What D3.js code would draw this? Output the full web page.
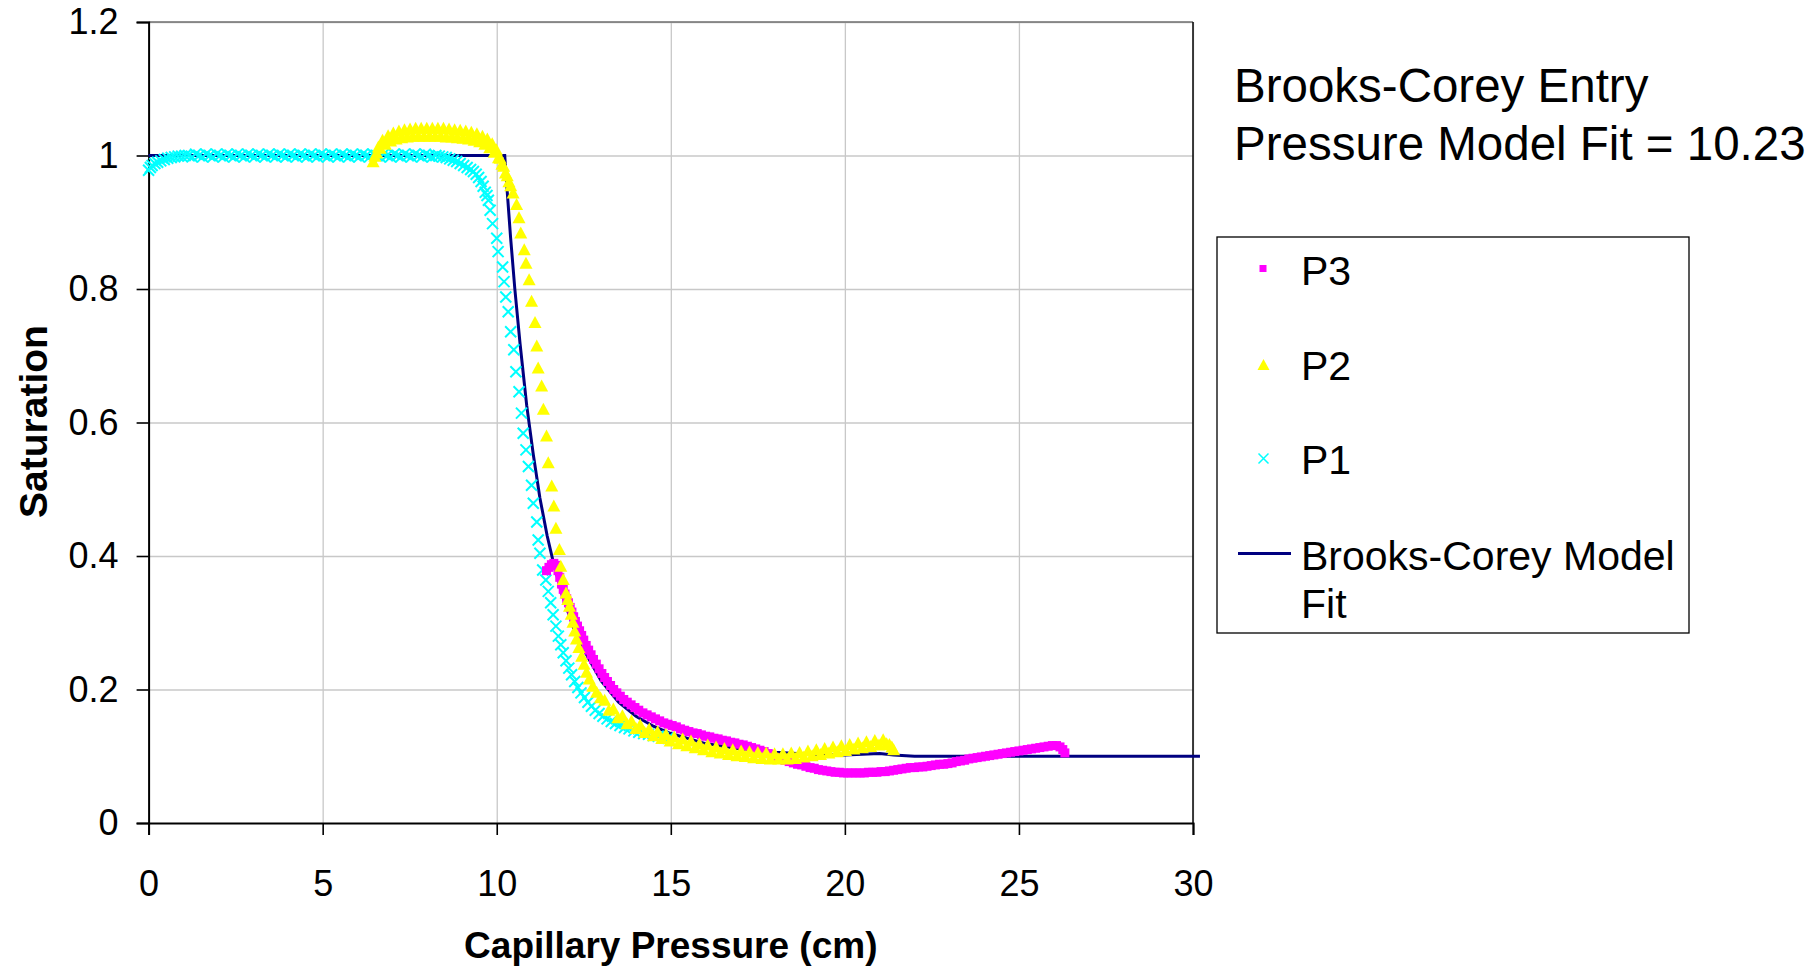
<!DOCTYPE html>
<html>
<head>
<meta charset="utf-8">
<script src="https://cdn.jsdelivr.net/npm/d3@7"></script>
<style>
  body { margin: 0; background: #fff; }
  text { font-family: "Liberation Sans", Arial, sans-serif; fill: #000; }
  .grid line { stroke: #c8c8c8; stroke-width: 1.3; }
  .grid .domain { display: none; }
</style>
</head>
<body>
<div id="chart"></div>
<script>
// axis ticks
var xTicks = [0, 5, 10, 15, 20, 25, 30];
var xTickLabels = ['0', '5', '10', '15', '20', '25', '30'];
var yTicks = [0, 0.2, 0.4, 0.6, 0.8, 1, 1.2];
var yTickLabels = ['0', '0.2', '0.4', '0.6', '0.8', '1', '1.2'];

var titleLines = ['Brooks-Corey Entry', 'Pressure Model Fit = 10.23'];
var seriesNames = ['P3', 'P2', 'P1', 'Brooks-Corey Model', 'Fit'];

// P1 : capillary pressure (cm), saturation
var p1 = [
  [0.00,0.978],[0.05,0.982],[0.10,0.985],[0.18,0.988],[0.26,0.990],[0.35,0.992],[0.45,0.994],[0.55,0.996],[0.65,0.997],[0.75,0.998],
  [0.85,0.999],[0.95,0.999],[1.05,1.000],[1.15,1.000],[1.25,0.998],[1.35,1.002],[1.45,1.000],[1.55,0.998],[1.65,1.002],[1.75,1.000],
  [1.85,0.998],[1.95,1.002],[2.05,1.000],[2.15,0.998],[2.25,1.002],[2.35,1.000],[2.45,0.998],[2.55,1.002],[2.65,1.000],[2.75,0.998],
  [2.85,1.002],[2.95,1.000],[3.05,0.998],[3.15,1.002],[3.25,1.000],[3.35,0.998],[3.45,1.002],[3.55,1.000],[3.65,0.998],[3.75,1.002],
  [3.85,1.000],[3.95,0.998],[4.05,1.002],[4.15,1.000],[4.25,0.998],[4.35,1.002],[4.45,1.000],[4.55,0.998],[4.65,1.002],[4.75,1.000],
  [4.85,0.998],[4.95,1.002],[5.05,1.000],[5.15,0.998],[5.25,1.002],[5.35,1.000],[5.45,0.998],[5.55,1.002],[5.65,1.000],[5.75,0.998],
  [5.85,1.002],[5.95,1.000],[6.05,0.998],[6.15,1.002],[6.25,1.000],[6.35,0.998],[6.45,1.002],[6.55,1.000],[6.65,0.998],[6.75,1.002],
  [6.85,1.000],[6.95,0.998],[7.05,1.002],[7.15,1.000],[7.25,0.998],[7.35,1.002],[7.45,1.000],[7.55,0.998],[7.65,1.002],[7.75,1.000],
  [7.85,0.998],[7.95,1.002],[8.05,1.000],[8.15,0.998],[8.25,1.000],[8.35,0.999],[8.45,0.998],[8.55,0.997],[8.65,0.995],[8.75,0.993],
  [8.85,0.991],[8.95,0.988],[9.05,0.985],[9.15,0.982],[9.25,0.979],[9.33,0.976],[9.41,0.972],[9.48,0.967],[9.55,0.961],[9.61,0.954],
  [9.67,0.945],[9.72,0.940],[9.76,0.933],[9.81,0.918],[9.88,0.898],[10.00,0.876],[10.04,0.856],[10.17,0.833],[10.21,0.811],[10.26,0.788],
  [10.33,0.766],[10.40,0.736],[10.49,0.709],[10.55,0.676],[10.64,0.646],[10.71,0.614],[10.76,0.584],[10.84,0.559],[10.91,0.534],[11.00,0.506],
  [11.05,0.479],[11.15,0.451],[11.19,0.424],[11.24,0.404],[11.32,0.379],[11.41,0.364],[11.48,0.347],[11.55,0.330],[11.62,0.312],[11.70,0.295],
  [11.77,0.280],[11.84,0.267],[11.91,0.255],[11.99,0.243],[12.07,0.232],[12.15,0.222],[12.24,0.212],[12.33,0.203],[12.42,0.195],[12.52,0.188],
  [12.62,0.181],[12.72,0.175],[12.83,0.169],[12.94,0.164],[13.05,0.160],[13.17,0.156],[13.29,0.152],[13.41,0.149],[13.54,0.146],[13.67,0.143],
  [13.80,0.141],[13.94,0.138],[14.08,0.136],[14.22,0.134],[14.36,0.133],[14.50,0.131],[14.64,0.130],[14.78,0.128],[14.92,0.127]
];

// P2
var p2 = [
  [6.45,0.990],[6.50,0.998],[6.55,1.003],[6.60,1.012],[6.65,1.010],[6.72,1.022],[6.80,1.016],[6.88,1.029],[6.95,1.021],[7.03,1.033],
  [7.11,1.024],[7.19,1.036],[7.27,1.026],[7.35,1.038],[7.43,1.027],[7.51,1.039],[7.59,1.028],[7.67,1.040],[7.75,1.028],[7.83,1.040],
  [7.91,1.028],[7.99,1.040],[8.07,1.028],[8.15,1.040],[8.23,1.028],[8.31,1.040],[8.39,1.028],[8.47,1.040],[8.55,1.027],[8.63,1.039],
  [8.71,1.027],[8.79,1.038],[8.87,1.026],[8.95,1.037],[9.03,1.025],[9.11,1.036],[9.19,1.024],[9.27,1.034],[9.35,1.022],[9.43,1.032],
  [9.51,1.020],[9.59,1.028],[9.66,1.016],[9.73,1.024],[9.80,1.011],[9.87,1.017],[9.93,1.004],[9.99,1.008],[10.05,0.996],[10.10,0.995],
  [10.15,0.986],[10.20,0.983],[10.25,0.973],[10.30,0.969],[10.35,0.960],[10.40,0.954],[10.47,0.943],[10.57,0.926],[10.64,0.906],[10.69,0.883],
  [10.79,0.858],[10.84,0.838],[10.93,0.813],[11.00,0.781],[11.10,0.749],[11.15,0.714],[11.19,0.681],[11.29,0.654],[11.34,0.619],[11.43,0.579],
  [11.48,0.539],[11.58,0.504],[11.64,0.474],[11.70,0.441],[11.80,0.409],[11.84,0.384],[11.91,0.364],[11.99,0.344],[12.04,0.334],[12.09,0.324],
  [12.14,0.312],[12.19,0.300],[12.24,0.287],[12.29,0.275],[12.36,0.262],[12.44,0.249],[12.51,0.237],[12.58,0.225],[12.66,0.215],[12.76,0.204],
  [12.87,0.195],[12.98,0.187],[13.10,0.183],[13.22,0.168],[13.35,0.170],[13.48,0.157],[13.61,0.160],[13.74,0.148],[13.87,0.152],[14.00,0.141],
  [14.12,0.146],[14.25,0.135],[14.38,0.140],[14.50,0.130],[14.62,0.136],[14.74,0.126],[14.86,0.132],[14.98,0.122],[15.10,0.128],[15.22,0.118],
  [15.34,0.125],[15.46,0.115],[15.58,0.122],[15.70,0.112],[15.82,0.118],[15.94,0.109],[16.06,0.116],[16.18,0.106],[16.30,0.113],[16.42,0.104],
  [16.54,0.111],[16.66,0.102],[16.78,0.109],[16.90,0.100],[17.02,0.107],[17.14,0.099],[17.26,0.106],[17.38,0.097],[17.50,0.105],[17.62,0.096],
  [17.74,0.104],[17.86,0.095],[17.98,0.103],[18.10,0.095],[18.22,0.103],[18.34,0.095],[18.46,0.104],[18.58,0.096],[18.70,0.105],[18.82,0.098],
  [18.94,0.107],[19.06,0.100],[19.18,0.109],[19.30,0.102],[19.42,0.111],[19.54,0.104],[19.66,0.113],[19.78,0.106],[19.90,0.115],[20.02,0.108],
  [20.14,0.117],[20.26,0.110],[20.38,0.119],[20.50,0.112],[20.62,0.121],[20.74,0.114],[20.86,0.123],[20.98,0.116],[21.10,0.124],[21.20,0.118],
  [21.28,0.117],[21.35,0.113],[21.40,0.109]
];

// P3
var p3 = [
  [11.43,0.378],[11.50,0.383],[11.57,0.387],[11.64,0.389],[11.70,0.386],[11.76,0.378],[11.81,0.368],[11.86,0.358],[11.91,0.350],[11.96,0.343],
  [12.01,0.336],[12.06,0.330],[12.11,0.323],[12.16,0.316],[12.21,0.309],[12.26,0.302],[12.32,0.295],[12.38,0.288],[12.44,0.281],[12.50,0.274],
  [12.57,0.266],[12.64,0.259],[12.71,0.252],[12.78,0.245],[12.86,0.238],[12.94,0.231],[13.02,0.224],[13.10,0.218],[13.18,0.212],[13.27,0.206],
  [13.36,0.200],[13.45,0.195],[13.55,0.190],[13.65,0.185],[13.75,0.181],[13.86,0.177],[13.97,0.173],[14.08,0.169],[14.20,0.165],[14.32,0.162],
  [14.44,0.159],[14.56,0.156],[14.68,0.153],[14.80,0.150],[14.92,0.148],[15.04,0.146],[15.16,0.144],[15.28,0.141],[15.40,0.139],[15.52,0.137],
  [15.64,0.135],[15.76,0.134],[15.88,0.132],[16.00,0.130],[16.12,0.129],[16.24,0.127],[16.36,0.126],[16.48,0.124],[16.60,0.123],[16.72,0.121],
  [16.84,0.120],[16.96,0.118],[17.08,0.117],[17.20,0.115],[17.32,0.113],[17.44,0.111],[17.56,0.109],[17.68,0.107],[17.80,0.104],[17.92,0.101],
  [18.04,0.098],[18.16,0.096],[18.28,0.094],[18.40,0.092],[18.52,0.090],[18.64,0.088],[18.76,0.087],[18.88,0.085],[19.00,0.083],[19.12,0.082],
  [19.24,0.080],[19.36,0.079],[19.48,0.078],[19.60,0.077],[19.72,0.076],[19.84,0.076],[19.96,0.075],[20.08,0.075],[20.20,0.075],[20.32,0.075],
  [20.44,0.075],[20.56,0.075],[20.68,0.076],[20.80,0.076],[20.92,0.076],[21.04,0.077],[21.16,0.077],[21.28,0.078],[21.40,0.079],[21.52,0.080],
  [21.64,0.081],[21.76,0.082],[21.88,0.083],[22.00,0.083],[22.12,0.084],[22.24,0.084],[22.36,0.085],[22.48,0.086],[22.60,0.087],[22.72,0.088],
  [22.84,0.088],[22.96,0.089],[23.08,0.090],[23.20,0.092],[23.32,0.093],[23.44,0.094],[23.56,0.096],[23.68,0.097],[23.80,0.098],[23.92,0.099],
  [24.04,0.100],[24.16,0.101],[24.28,0.102],[24.40,0.103],[24.52,0.104],[24.64,0.105],[24.76,0.106],[24.88,0.107],[25.00,0.108],[25.12,0.109],
  [25.24,0.110],[25.36,0.111],[25.48,0.112],[25.60,0.113],[25.72,0.114],[25.84,0.115],[25.96,0.116],[26.08,0.116],[26.18,0.114],[26.26,0.110],
  [26.32,0.105]
];

// Brooks-Corey model fit
var bcFit = [
  [0,1.0],[10.23,1.0],[10.28,0.961],[10.40,0.876],[10.52,0.800],[10.67,0.718],[10.86,0.626],[11.05,0.552],[11.24,0.487],[11.45,0.430],
  [11.62,0.392],[11.86,0.345],[12.20,0.293],[12.60,0.250],[13.00,0.213],[13.50,0.181],[14.00,0.160],[14.50,0.145],[15.00,0.134],[16.00,0.119],
  [17.00,0.111],[18.00,0.106],[19.00,0.103],[20.00,0.102],[20.50,0.103],[21.00,0.104],[21.40,0.102],[22.00,0.100],[30.20,0.100]
];

var width = 1820;
var height = 967;
var plotLeft = 148.6, plotRight = 1193, plotTop = 22, plotBottom = 823;

var x = d3.scaleLinear().domain([0, 30]).range([plotLeft, plotRight]);
var y = d3.scaleLinear().domain([0, 1.2]).range([plotBottom, plotTop]);

var svg = d3.select('#chart')
  .append('svg')
  .attr('width', width)
  .attr('height', height);

svg.append('rect').attr('width', width).attr('height', height).attr('fill', '#fff');

// gridlines
svg.append('g')
  .attr('class', 'grid')
  .attr('transform', 'translate(0,' + plotBottom + ')')
  .call(d3.axisBottom(x).tickValues(xTicks.slice(1)).tickSize(-(plotBottom - plotTop)).tickFormat(''));
svg.append('g')
  .attr('class', 'grid')
  .attr('transform', 'translate(' + plotLeft + ',0)')
  .call(d3.axisLeft(y).tickValues(yTicks.slice(1)).tickSize(-(plotRight - plotLeft)).tickFormat(''));

// top and right border
svg.append('line')
  .attr('x1', plotLeft).attr('x2', plotRight).attr('y1', plotTop).attr('y2', plotTop)
  .attr('stroke', '#707070').attr('stroke-width', 1.6);
svg.append('line')
  .attr('x1', plotRight).attr('x2', plotRight).attr('y1', plotTop).attr('y2', plotBottom)
  .attr('stroke', '#111').attr('stroke-width', 1.6);

// axes
var xAxis = svg.append('g')
  .attr('transform', 'translate(0,' + plotBottom + ')')
  .call(d3.axisBottom(x).tickValues(xTicks).tickSize(12).tickPadding(35)
    .tickFormat(function(d, i) { return xTickLabels[i]; }));
var yAxis = svg.append('g')
  .attr('transform', 'translate(' + plotLeft + ',0)')
  .call(d3.axisLeft(y).tickValues(yTicks).tickSize(12).tickPadding(18)
    .tickFormat(function(d, i) { return yTickLabels[i]; }));

[xAxis, yAxis].forEach(function(ax) {
  ax.selectAll('.domain').attr('stroke', '#000').attr('stroke-width', 2);
  ax.selectAll('.tick line').attr('stroke', '#000').attr('stroke-width', 1.6);
  ax.selectAll('.tick text')
    .style('font-family', '"Liberation Sans", Arial, sans-serif')
    .style('font-size', '36px')
    .attr('fill', '#000');
});

// axis titles
svg.append('text')
  .attr('x', (plotLeft + plotRight) / 2)
  .attr('y', 958)
  .attr('text-anchor', 'middle')
  .style('font-size', '37px')
  .style('font-weight', 'bold')
  .text('Capillary Pressure (cm)');

svg.append('text')
  .attr('transform', 'translate(47,' + ((plotTop + plotBottom) / 2 - 1) + ') rotate(-90)')
  .attr('text-anchor', 'middle')
  .style('font-size', '39px')
  .style('font-weight', 'bold')
  .text('Saturation');

// marker shapes
var crossPath = 'M-5.5,-5.5L5.5,5.5M-5.5,5.5L5.5,-5.5';
var triPath = 'M0,-7L6.5,5L-6.5,5Z';

// model line (drawn underneath the markers)
var line = d3.line()
  .x(function(d) { return x(d[0]); })
  .y(function(d) { return y(d[1]); });

svg.append('path')
  .datum(bcFit)
  .attr('d', line)
  .attr('fill', 'none')
  .attr('stroke', '#000080')
  .attr('stroke-width', 3);

svg.append('g').selectAll('path')
  .data(p1)
  .join('path')
    .attr('d', crossPath)
    .attr('transform', function(d) { return 'translate(' + x(d[0]) + ',' + y(d[1]) + ')'; })
    .attr('stroke', '#00ffff')
    .attr('stroke-width', 2)
    .attr('fill', 'none');

svg.append('g').selectAll('rect')
  .data(p3)
  .join('rect')
    .attr('x', function(d) { return x(d[0]) - 4.5; })
    .attr('y', function(d) { return y(d[1]) - 4.5; })
    .attr('width', 9)
    .attr('height', 9)
    .attr('fill', '#ff00ff');

svg.append('g').selectAll('path')
  .data(p2)
  .join('path')
    .attr('d', triPath)
    .attr('transform', function(d) { return 'translate(' + x(d[0]) + ',' + y(d[1]) + ')'; })
    .attr('fill', '#ffff00');

// title text
svg.append('g').selectAll('text')
  .data(titleLines)
  .join('text')
    .attr('x', 1234)
    .attr('y', function(d, i) { return 102 + i * 58; })
    .style('font-size', '47.5px')
    .text(function(d) { return d; });

// legend
var legend = svg.append('g');
legend.append('rect')
  .attr('x', 1217).attr('y', 237).attr('width', 472).attr('height', 396)
  .attr('fill', '#fff').attr('stroke', '#000').attr('stroke-width', 1.3);

var legendY = [285, 380, 473.5, 570, 618];
legend.selectAll('text')
  .data(seriesNames)
  .join('text')
    .attr('x', 1301)
    .attr('y', function(d, i) { return legendY[i]; })
    .style('font-size', '41px')
    .text(function(d) { return d; });

legend.append('rect')
  .attr('x', 1263 - 3.5).attr('y', 268.5 - 3.5).attr('width', 7).attr('height', 7)
  .attr('fill', '#ff00ff');
legend.append('path')
  .attr('d', 'M0,-6L6,5L-6,5Z')
  .attr('transform', 'translate(1263.5,365)')
  .attr('fill', '#ffff00');
legend.append('path')
  .attr('d', 'M-5,-5L5,5M-5,5L5,-5')
  .attr('transform', 'translate(1263.5,458.5)')
  .attr('stroke', '#00ffff').attr('stroke-width', 1.5);
legend.append('line')
  .attr('x1', 1238).attr('x2', 1291).attr('y1', 553.5).attr('y2', 553.5)
  .attr('stroke', '#000080').attr('stroke-width', 3);
</script>
</body>
</html>
